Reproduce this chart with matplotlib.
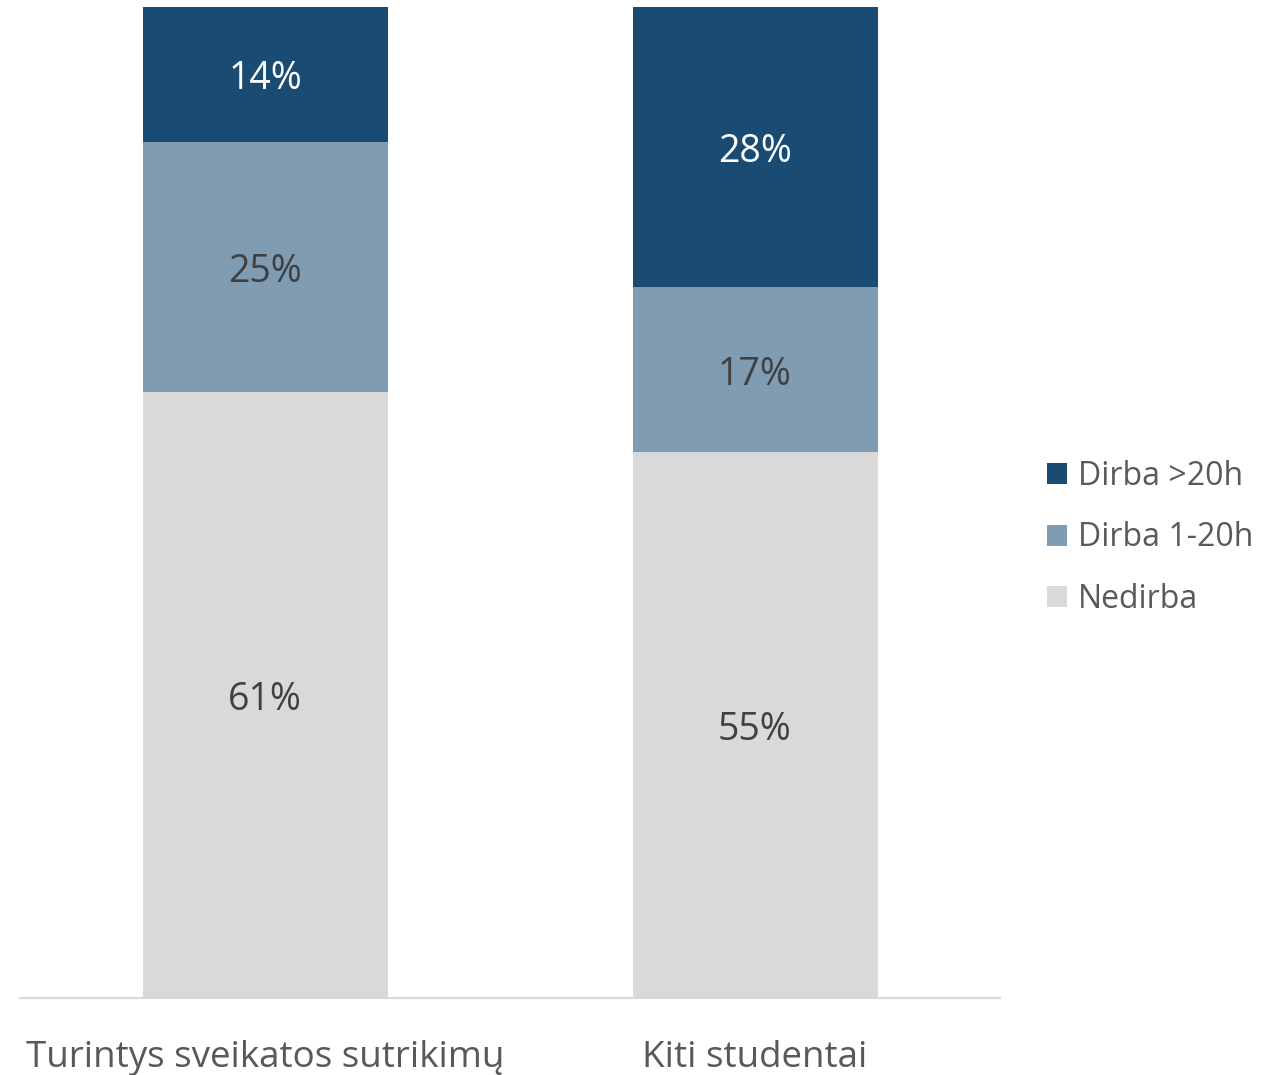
import numpy as np
from matplotlib import pyplot as plt
from matplotlib.transforms import offset_copy

categories = ['Turintys sveikatos sutrikimų', 'Kiti studentai']
series_names = ['Nedirba', 'Dirba 1-20h', 'Dirba >20h']
nedirba = [61.2, 55.1]
dirba_1_20 = [25.2, 16.6]
dirba_20 = [13.6, 28.3]

colors = ['#D9D9D9', '#7F9CB3', '#1A4C73']
label_colors = ['#404040', '#404040', '#FFFFFF']

plt.rcParams['font.family'] = ['Open Sans', 'DejaVu Sans']

fig = plt.figure(figsize=(12.81, 10.75), dpi=100)
ax = fig.add_axes([20 / 1281, 77 / 1075, 980 / 1281, 991 / 1075])
# nudge data labels a little lower, like the original
lbl_trans = offset_copy(ax.transData, fig=fig, x=0, y=-5, units='dots')

x = np.arange(len(categories))
bottom = np.zeros(len(categories))
handles = []
for name, vals, col, tcol in zip(series_names, [nedirba, dirba_1_20, dirba_20], colors, label_colors):
    vals = np.array(vals, dtype=float)
    bars = ax.bar(x, vals, 0.5, bottom=bottom, color=col, label=name)
    handles.append(bars)
    for xi, b, v in zip(x, bottom, vals):
        ax.text(xi, b + v / 2, '%d%%' % round(v), ha='center', va='center',
                fontsize=27, color=tcol, transform=lbl_trans)
    bottom += vals

ax.set_xlim(-0.5, 1.5)
ax.set_ylim(0, 100)
ax.set_yticks([])
ax.set_xticks(x)
ax.set_xticklabels(categories, fontsize=26.5, color='#595959')
ax.tick_params(axis='x', length=0, pad=30)
for s in ['top', 'right', 'left']:
    ax.spines[s].set_visible(False)
ax.spines['bottom'].set_color('#D9D9D9')
ax.spines['bottom'].set_linewidth(1.5)

leg = fig.legend(handles[::-1], series_names[::-1], loc='center left',
                 bbox_to_anchor=(1018 / 1281, 1 - 538 / 1075), frameon=False,
                 fontsize=23, handlelength=0.63, handleheight=0.63,
                 handletextpad=0.34, labelspacing=0.89, labelcolor='#595959')

fig.savefig('out.png', dpi=100)
